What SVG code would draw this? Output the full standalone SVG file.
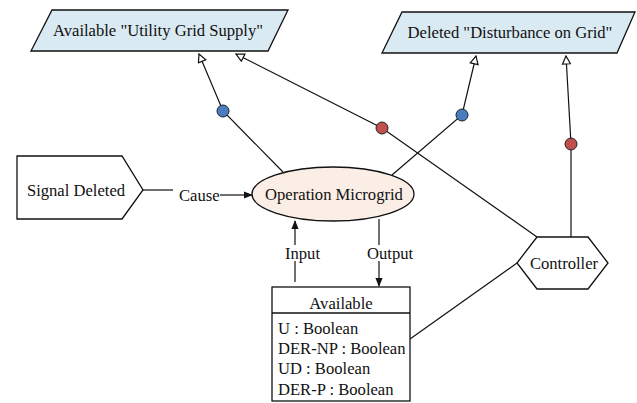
<svg xmlns="http://www.w3.org/2000/svg" width="637" height="403" viewBox="0 0 637 403" font-family="'Liberation Serif', 'Times New Roman', serif">
<style>
text{font-family:"Liberation Serif","Times New Roman",serif;font-size:16.6px;fill:#111}
.n{stroke:#111;stroke-width:1.3}
.c{fill:none;stroke:#111;stroke-width:1.2}
.dot{stroke:#222;stroke-width:1}
</style>
<defs>
<marker id="open" viewBox="0 0 10 10" refX="9" refY="5" markerWidth="10" markerHeight="10" markerUnits="userSpaceOnUse" orient="auto">
<path d="M1,1 L9,5 L1,9 Z" fill="#fff" stroke="#111" stroke-width="1.2"/>
</marker>
<marker id="fill" viewBox="0 0 10 10" refX="9" refY="5" markerWidth="9" markerHeight="9" markerUnits="userSpaceOnUse" orient="auto">
<path d="M0,1 L10,5 L0,9 Z" fill="#111"/>
</marker>
</defs>
<g id="connectors">
<polyline class="c" points="283,172 223,111 199,54" marker-end="url(#open)"/>
<polyline class="c" points="392,175 462,115 476,56" marker-end="url(#open)"/>
<polyline class="c" points="537,237 382,128 236,54" marker-end="url(#open)"/>
<polyline class="c" points="571,237 571,144 566,56" marker-end="url(#open)"/>
<line class="c" x1="517" y1="263" x2="410" y2="339"/>
<line class="c" x1="143" y1="190" x2="173" y2="190"/>
<line class="c" x1="220" y1="195" x2="252" y2="195" marker-end="url(#fill)"/>
<line class="c" x1="295" y1="282" x2="295" y2="221" marker-end="url(#fill)"/>
<line class="c" x1="379" y1="219" x2="379" y2="286" marker-end="url(#fill)"/>
<circle class="dot" cx="223" cy="111" r="6" fill="#4a7cc0"/>
<circle class="dot" cx="462" cy="115" r="6" fill="#4a7cc0"/>
<circle class="dot" cx="382" cy="128" r="6" fill="#c0504d"/>
<circle class="dot" cx="571" cy="144" r="6" fill="#c0504d"/>
<rect x="283" y="245" width="38" height="16" fill="#fff"/>
<rect x="367" y="245" width="47" height="16" fill="#fff"/>
<text x="179" y="201">Cause</text>
<text x="285" y="259">Input</text>
<text x="367" y="259">Output</text>
</g>
<g id="utility">
<polygon class="n" points="52,10 288,10 268,51 31,51" fill="#daeaf2"/>
<text x="158" y="36" text-anchor="middle">Available "Utility Grid Supply"</text>
</g>
<g id="disturbance">
<polygon class="n" points="402,12 635,12 617,53 382,53" fill="#daeaf2"/>
<text x="510" y="38" text-anchor="middle">Deleted "Disturbance on Grid"</text>
</g>
<g id="signal">
<polygon class="n" points="17,156 122,156 143,190 122,219 17,219" fill="#fff"/>
<text x="76" y="196" text-anchor="middle">Signal Deleted</text>
</g>
<g id="operation">
<ellipse class="n" cx="333" cy="194" rx="81" ry="27" fill="#fbeee6"/>
<text x="334" y="200" text-anchor="middle">Operation Microgrid</text>
</g>
<g id="controller">
<polygon class="n" points="537,237 588,237 608,263 588,289 537,289 517,263" fill="#fff"/>
<text x="564" y="269" text-anchor="middle">Controller</text>
</g>
<g id="available">
<rect class="n" x="272" y="287" width="138" height="114" fill="#fff"/>
<line class="n" x1="272" y1="313" x2="410" y2="313"/>
<text x="341" y="309" text-anchor="middle">Available</text>
<text x="278" y="334">U : Boolean</text>
<text x="278" y="354">DER-NP : Boolean</text>
<text x="278" y="374">UD : Boolean</text>
<text x="278" y="395">DER-P : Boolean</text>
</g>
</svg>
